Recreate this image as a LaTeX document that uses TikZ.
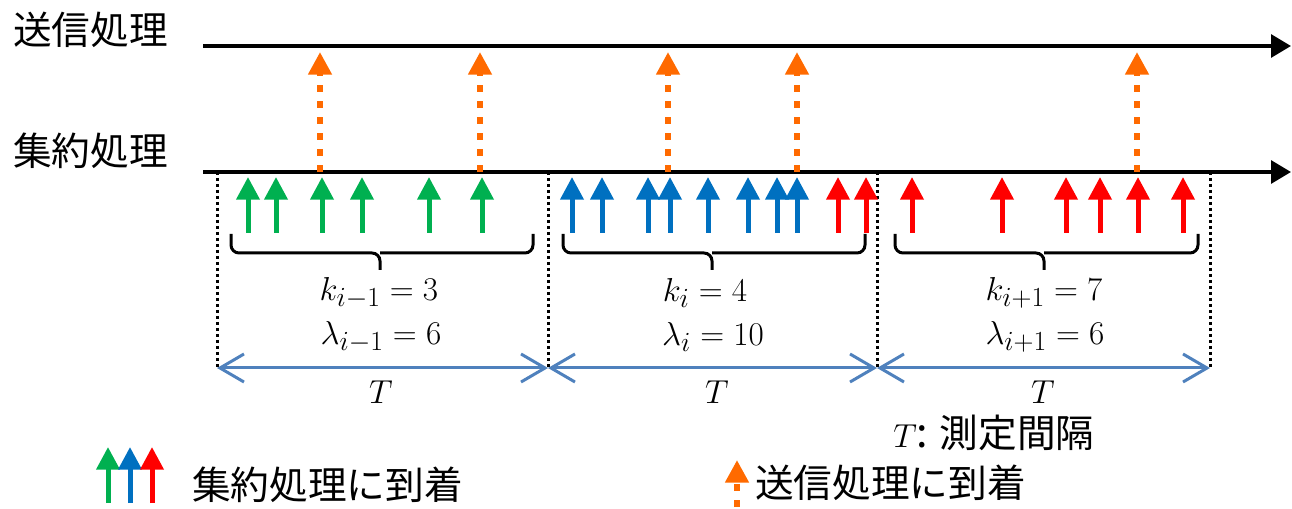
\documentclass[tikz,border=0pt]{standalone}
\usepackage{fontspec}
\newfontfamily\cjk{Noto Sans CJK JP}
\usetikzlibrary{arrows.meta}
\definecolor{cgreen}{HTML}{00B050}
\definecolor{cblue}{HTML}{0070C0}
\definecolor{cred}{HTML}{FF0000}
\definecolor{corange}{HTML}{FF6A00}
\definecolor{cdim}{HTML}{4F81BD}
\tikzset{
  axisline/.style={line width=3pt,-{Triangle[width=17pt,length=15pt]}},
  uparr/.style={line width=3.75pt,-{Triangle[width=17pt,length=17pt]}},
  sendarr/.style={line width=5pt,corange,dash pattern=on 5pt off 7pt,-{Triangle[width=17pt,length=17pt]}},
  sep/.style={line width=2.25pt,dash pattern=on 2.25pt off 2.25pt},
  dimarr/.style={cdim,line width=2.25pt,{Straight Barb[length=18pt,width=21pt]}-{Straight Barb[length=18pt,width=21pt]}},
  brace/.style={line width=2.25pt,rounded corners=6pt},
  jtext/.style={inner sep=0pt,font=\cjk\fontsize{29pt}{34pt}\selectfont},
  mtext/.style={inner sep=0pt,font=\fontsize{31pt}{36pt}\selectfont},
}
\begin{document}
\begin{tikzpicture}[x=0.75pt,y=-0.75pt]
\useasboundingbox (0,0) rectangle (1292,509);
% labels
\node[jtext,anchor=west] (lsend) at (13,30) {送信処理};
\node[jtext,anchor=west] (lagg) at (13,151) {集約処理};
% axes
\coordinate (s0) at (203,46); \coordinate (s1) at (1291,46);
\coordinate (a0) at (203,172); \coordinate (a1) at (1291,172);
\draw[axisline] (s0) -- (s1);
\draw[axisline] (a0) -- (a1);
% separators
\foreach \x [count=\n] in {217,548,877,1210} {
  \coordinate (d\n) at (\x,368);
  \coordinate (u\n) at (\x,172);
  \draw[sep] (u\n) -- (d\n);
}
% dimension arrows
\draw[dimarr] (d1) -- (d2);
\draw[dimarr] (d2) -- (d3);
\draw[dimarr] (d3) -- (d4);
% send arrows
\foreach \x in {320,480,668,797,1137} \draw[sendarr] (\x,172) -- (\x,52);
% arrivals
\foreach \x in {248,276,322,362,429,482} \draw[uparr,cgreen] (\x,233) -- (\x,177);
\foreach \x in {572,602,648,670,708,748,777,797} \draw[uparr,cblue] (\x,233) -- (\x,177);
\foreach \x in {838,866,912,1002,1066,1100,1138,1183} \draw[uparr,cred] (\x,233) -- (\x,177);
% braces
\foreach \l/\c/\r in {231/380/533, 563/712/865, 895/1044/1198} {
  \draw[brace] (\l,234) |- (\c,253) -- (\c,270);
  \draw[brace] (\r,234) |- (\c,253);
}
% math labels
\node[mtext] (k1) at (379,293) {$k_{i-1}=3$};
\node[mtext] (l1) at (381,337) {$\lambda_{i-1}=6$};
\node[mtext] (k2) at (705,293) {$k_{i}=4$};
\node[mtext] (l2) at (713,337) {$\lambda_{i}=10$};
\node[mtext] (k3) at (1044,293) {$k_{i+1}=7$};
\node[mtext] (l3) at (1045,337) {$\lambda_{i+1}=6$};
\node[mtext] (t1) at (381,392) {$T$};
\node[mtext] (t2) at (717,392) {$T$};
\node[mtext] (t3) at (1043,392) {$T$};
\node[jtext,anchor=west] (tdef) at (893,433) {{\fontsize{31pt}{36pt}\selectfont$T$:} 測定間隔};
% legend
\draw[uparr,cgreen] (108,503) -- (108,447);
\draw[uparr,cblue] (130,503) -- (130,447);
\draw[uparr,cred] (152,503) -- (152,447);
\node[jtext,anchor=west] (leg1) at (192,485) {集約処理に到着};
\draw[sendarr] (737,507) -- (737,460);
\node[jtext,anchor=west] (leg2) at (755,483) {送信処理に到着};
\end{tikzpicture}
\end{document}
